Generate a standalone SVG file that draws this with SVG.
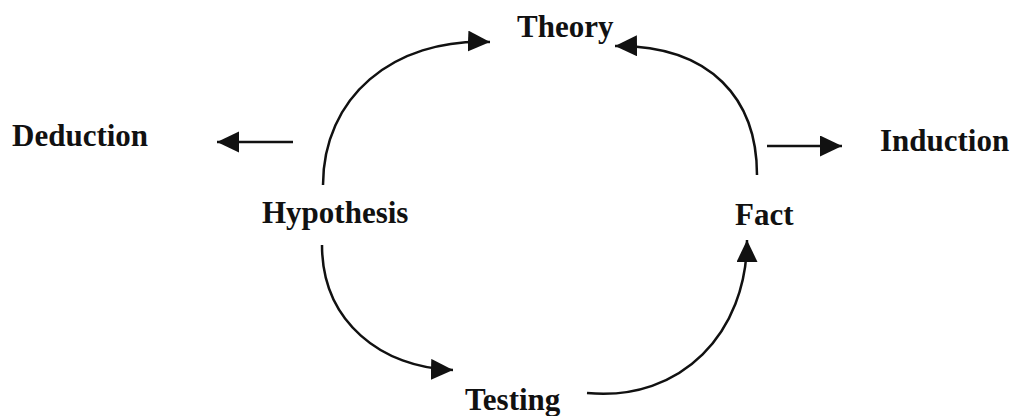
<svg xmlns="http://www.w3.org/2000/svg" width="1015" height="416" viewBox="0 0 1015 416">
  <style>
    .label { font-family: "Liberation Serif", "Times New Roman", serif; font-weight: bold; font-size: 31px; fill: #111; }
    .link { fill: none; stroke: #111; stroke-width: 2.5; }
  </style>
  <defs>
    <marker id="head" markerUnits="userSpaceOnUse" markerWidth="24" markerHeight="24" refX="22" refY="10.5" orient="auto">
      <path d="M0,0 L22,10.5 L0,21 Z" fill="#111"/>
    </marker>
  </defs>
  <rect width="1015" height="416" fill="#fff"/>

  <g id="connectors">
    <!-- Hypothesis up to Theory -->
    <path class="link" d="M323,185 C323,98 392,38 490,42" marker-end="url(#head)"/>
    <!-- Fact up to Theory -->
    <path class="link" d="M757,175 C757,100 712,45 615,46" marker-end="url(#head)"/>
    <!-- Hypothesis down to Testing -->
    <path class="link" d="M322,245 C322,322 382,368 453,370" marker-end="url(#head)"/>
    <!-- Testing up to Fact -->
    <path class="link" d="M587,393 C682,402 747,332 747,240" marker-end="url(#head)"/>
    <!-- Deduction and Induction pointers -->
    <path class="link" d="M293,142 L217,142" marker-end="url(#head)"/>
    <path class="link" d="M767,146 L842,146" marker-end="url(#head)"/>
  </g>

  <g id="theory"><text class="label" x="517" y="37">Theory</text></g>
  <g id="deduction"><text class="label" x="12" y="146">Deduction</text></g>
  <g id="induction"><text class="label" x="880" y="151">Induction</text></g>
  <g id="hypothesis"><text class="label" x="262" y="223">Hypothesis</text></g>
  <g id="fact"><text class="label" x="735" y="225">Fact</text></g>
  <g id="testing"><text class="label" x="465" y="410">Testing</text></g>
</svg>
